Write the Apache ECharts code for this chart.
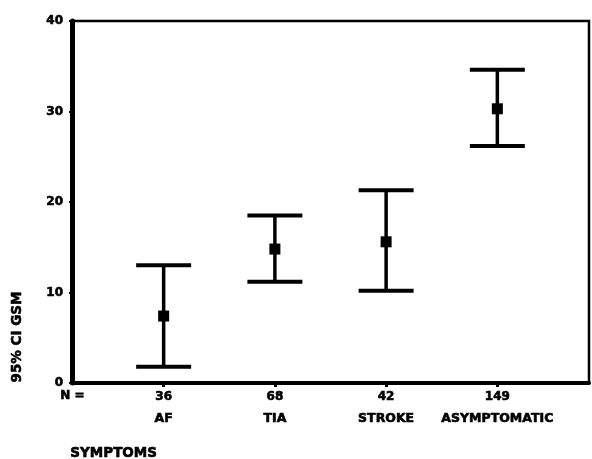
<!DOCTYPE html>
<html>
<head>
<meta charset="utf-8">
<script src="https://cdn.jsdelivr.net/npm/echarts@6/dist/echarts.min.js"></script>
<style>
html,body{margin:0;padding:0;background:#fff;}
#chart{width:592px;height:459px;}
</style>
</head>
<body>
<div id="chart"></div>
<script>
const categories = ['AF', 'TIA', 'STROKE', 'ASYMPTOMATIC'];
const nValues = [36, 68, 42, 149];
const means = [7.4, 14.8, 15.6, 30.3];
const lower = [1.8, 11.2, 10.2, 26.2];
const upper = [13.0, 18.5, 21.3, 34.6];
const yTicks = [0, 10, 20, 30, 40];

const positions = categories.map((c, i) => i + 1);
const errData = positions.map((p, i) => [p, lower[i], upper[i]]);
const meanData = positions.map((p, i) => [p, means[i]]);

const FONT = '"DejaVu Sans", "Liberation Sans", Arial, sans-serif';
const heavy = {textBorderColor: '#000', textBorderWidth: 0.6};

const chart = echarts.init(document.getElementById('chart'), null, {renderer: 'canvas'});
chart.setOption({
  backgroundColor: '#fff',
  animation: false,
  grid: {
    left: 72, right: 3, top: 21, bottom: 76,
    show: true, borderColor: '#000', borderWidth: 2.5, backgroundColor: 'transparent'
  },
  xAxis: {
    type: 'value',
    min: 0.176, max: 4.824,
    splitLine: {show: false},
    axisLine: {show: true, onZero: false, lineStyle: {color: '#000', width: 4}},
    axisTick: {show: true, customValues: positions, length: 4, lineStyle: {color: '#000', width: 3}},
    axisLabel: {
      show: true,
      customValues: positions,
      margin: 3,
      formatter: function (v) {
        const i = Math.round(v) - 1;
        return '{n|' + nValues[i] + '}\n{c|' + categories[i] + '}';
      },
      rich: {
        n: Object.assign({fontFamily: FONT, fontWeight: 'bold', fontSize: 12, color: '#000', lineHeight: 22}, heavy),
        c: Object.assign({fontFamily: FONT, fontWeight: 'bold', fontSize: 12.5, color: '#000', lineHeight: 22}, heavy)
      }
    }
  },
  yAxis: {
    type: 'value',
    min: 0, max: 40, interval: 10,
    splitLine: {show: false},
    axisLine: {show: true, lineStyle: {color: '#000', width: 5}},
    axisTick: {show: true, length: 3, lineStyle: {color: '#000', width: 2}},
    axisLabel: Object.assign({
      margin: 9,
      fontFamily: FONT, fontWeight: 'bold', fontSize: 12, color: '#000',
      formatter: function (v) { return yTicks.indexOf(v) >= 0 ? String(v) : ''; }
    }, heavy)
  },
  graphic: [
    {type: 'text', left: 60, top: 390, style: {text: 'N =', font: 'bold 12px ' + FONT, fill: '#000', stroke: '#000', lineWidth: 0.6}},
    {type: 'text', left: 70, top: 446, style: {text: 'SYMPTOMS', font: 'bold 13.5px ' + FONT, fill: '#000', stroke: '#000', lineWidth: 0.6}},
    {type: 'text', x: 17, y: 337, rotation: Math.PI / 2,
      style: {text: '95% CI GSM', font: 'bold 13.5px ' + FONT, fill: '#000', stroke: '#000', lineWidth: 0.6, align: 'center', verticalAlign: 'middle'}}
  ],
  series: [
    {
      type: 'custom',
      data: errData,
      renderItem: function (params, api) {
        const x = api.value(0);
        const lo = api.coord([x, api.value(1)]);
        const hi = api.coord([x, api.value(2)]);
        const hw = 27.5;
        const st = {stroke: '#000', lineWidth: 4};
        return {
          type: 'group',
          children: [
            {type: 'line', shape: {x1: lo[0], y1: lo[1], x2: hi[0], y2: hi[1]}, style: {stroke: '#000', lineWidth: 3.5}},
            {type: 'line', shape: {x1: lo[0] - hw, y1: lo[1], x2: lo[0] + hw, y2: lo[1]}, style: st},
            {type: 'line', shape: {x1: hi[0] - hw, y1: hi[1], x2: hi[0] + hw, y2: hi[1]}, style: st}
          ]
        };
      },
      z: 3
    },
    {
      type: 'scatter',
      data: meanData,
      symbol: 'rect',
      symbolSize: 11,
      itemStyle: {color: '#000', opacity: 1},
      z: 4
    }
  ]
});
</script>
</body>
</html>
